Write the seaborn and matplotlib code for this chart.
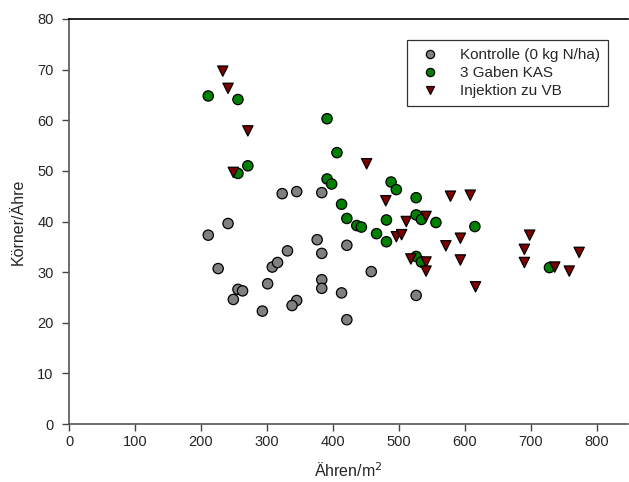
import matplotlib
matplotlib.use("Agg")
import matplotlib.pyplot as plt
import seaborn as sns
import pandas as pd

sns.set_style("white")
plt.rcParams['font.family'] = ['Liberation Sans', 'DejaVu Sans']

ctrl_x = [211, 241, 226, 256, 263, 249, 293, 301, 308, 316, 331, 345, 338, 376, 383, 383, 383, 413, 421, 421, 458, 323, 345, 383, 526]
ctrl_y = [37.3, 39.6, 30.7, 26.6, 26.3, 24.6, 22.3, 27.7, 31.0, 31.9, 34.2, 24.4, 23.4, 36.4, 33.7, 28.5, 26.8, 25.9, 35.3, 20.6, 30.1, 45.5, 45.9, 45.7, 25.4]

kas_x = [211, 256, 391, 406, 271, 256, 391, 398, 413, 421, 436, 443, 466, 481, 481, 488, 496, 526, 526, 534, 556, 615, 526, 534, 728]
kas_y = [64.8, 64.1, 60.3, 53.6, 51.0, 49.5, 48.4, 47.4, 43.4, 40.6, 39.2, 38.9, 37.6, 40.3, 36.0, 47.8, 46.3, 44.7, 41.3, 40.4, 39.8, 39.0, 33.1, 32.0, 30.9]

inj_x = [233, 241, 271, 249, 451, 480, 511, 541, 496, 504, 578, 608, 593, 571, 593, 518, 541, 541, 616, 698, 690, 690, 736, 758, 773]
inj_y = [69.7, 66.3, 57.9, 49.7, 51.4, 44.1, 40.0, 41.0, 37.0, 37.4, 45.0, 45.2, 36.7, 35.2, 32.4, 32.6, 32.0, 30.2, 27.1, 37.3, 34.5, 31.9, 31.0, 30.2, 33.9]

labels = ["Kontrolle (0 kg N/ha)", "3 Gaben KAS", "Injektion zu VB"]

df = pd.DataFrame({
    "x": ctrl_x + kas_x + inj_x,
    "y": ctrl_y + kas_y + inj_y,
    "g": [labels[0]] * len(ctrl_x) + [labels[1]] * len(kas_x) + [labels[2]] * len(inj_x),
})

fig = plt.figure(figsize=(6.29, 4.82), dpi=100)
ax = fig.add_axes([69/629, 58/482, (628-69)/629, (424-19)/482])

sns.scatterplot(data=df, x="x", y="y", hue="g", style="g",
                palette={labels[0]: "#808080", labels[1]: "#008000", labels[2]: "#800000"},
                markers={labels[0]: "o", labels[1]: "o", labels[2]: "v"},
                s=55, edgecolor="black", linewidth=0.9, ax=ax, legend=True, zorder=3)

ax.set_xlim(0, 847)
ax.set_ylim(0, 80)
ax.set_xticks(range(0, 801, 100))
ax.set_yticks(range(0, 81, 10))
ax.tick_params(axis="both", direction="out", length=5, width=1, color="#444444",
               labelsize=10.5, left=True, bottom=True)
ax.tick_params(axis="x", pad=3)
ax.tick_params(axis="y", pad=6)
ax.spines["right"].set_visible(False)
ax.spines["top"].set_visible(True)
ax.spines["top"].set_color("black")
ax.spines["top"].set_linewidth(1.2)
for sp in ["left", "bottom"]:
    ax.spines[sp].set_color("#555555")
    ax.spines[sp].set_linewidth(1.2)

ax.set_xlabel("Ähren/m$^2$", fontsize=11.5, labelpad=9)
ax.set_ylabel("Körner/Ähre", fontsize=11.5, labelpad=8)

leg = ax.legend(loc="upper right", bbox_to_anchor=(0.964, 0.948), frameon=True,
                fontsize=11, markerscale=0.8, handletextpad=0.95, borderpad=0.54,
                handlelength=1.96, labelspacing=0.25, fancybox=False, borderaxespad=0)
leg.get_frame().set_edgecolor("black")
leg.get_frame().set_linewidth(0.9)

fig.savefig("out.png", dpi=100)
